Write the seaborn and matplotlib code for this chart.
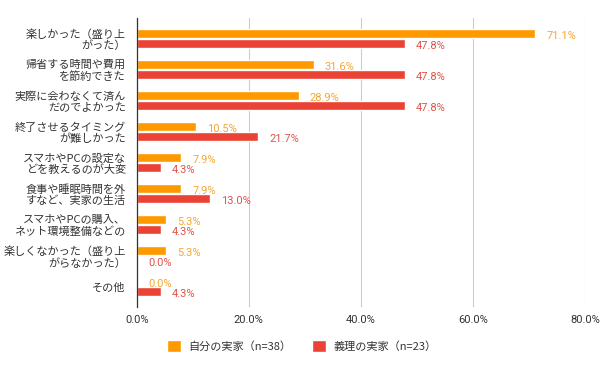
import matplotlib.pyplot as plt
import seaborn as sns
import pandas as pd

categories = [
    "楽しかった（盛り上\nがった）",
    "帰省する時間や費用\nを節約できた",
    "実際に会わなくて済ん\nだのでよかった",
    "終了させるタイミング\nが難しかった",
    "スマホやPCの設定な\nどを教えるのが大変",
    "食事や睡眠時間を外\nすなど、実家の生活",
    "スマホやPCの購入、\nネット環境整備などの",
    "楽しくなかった（盛り上\nがらなかった）",
    "その他",
]
series_names = ["自分の実家（n=38）", "義理の実家（n=23）"]
own_home = [71.1, 31.6, 28.9, 10.5, 7.9, 7.9, 5.3, 5.3, 0.0]
in_law_home = [47.8, 47.8, 47.8, 21.7, 4.3, 13.0, 4.3, 0.0, 4.3]
x_ticks = [0, 20, 40, 60, 80]

colors = ["#FF9900", "#EA4335"]
label_colors = ["#F5A733", "#E0524A"]

df = pd.DataFrame({
    "category": categories * 2,
    "series": [series_names[0]] * len(categories) + [series_names[1]] * len(categories),
    "value": own_home + in_law_home,
})

sns.set_theme(style="white")
plt.rcParams["font.family"] = ["Noto Sans CJK JP", "DejaVu Sans"]

fig = plt.figure(figsize=(6, 3.71), dpi=100)
ax = fig.add_axes([0.228, 0.1725, 0.747, 0.778])

sns.barplot(data=df, y="category", x="value", hue="series", orient="h",
            palette=colors, width=0.64, gap=0.06, saturation=1, ax=ax)

# value labels next to each bar
for cont, lc in zip(ax.containers, label_colors):
    for bar in cont:
        w = bar.get_width()
        ax.annotate(f"{w:.1f}%", (w, bar.get_y() + bar.get_height() / 2),
                    xytext=(8, -1.5), textcoords="offset points",
                    ha="left", va="center", fontsize=8, color=lc,
                    family=["Roboto", "DejaVu Sans"])

ax.set_xlim(0, 80)
ax.set_ylim(8.65, -0.65)
ax.set_xticks(x_ticks)
ax.set_xticklabels([f"{t:.1f}%" for t in x_ticks], fontsize=8, color="#333333",
                   family=["Roboto", "DejaVu Sans"])
ax.tick_params(axis="y", labelsize=8, labelcolor="#333333", length=0, pad=8)
ax.tick_params(axis="x", length=0, pad=6)
ax.set_xlabel("")
ax.set_ylabel("")
ax.grid(axis="x", color="#CCCCCC", linewidth=0.8)
ax.set_axisbelow(True)
for s in ["top", "right", "bottom"]:
    ax.spines[s].set_visible(False)
ax.spines["left"].set_color("#333333")
ax.spines["left"].set_linewidth(0.9)
ax.spines["left"].set_zorder(5)

for lbl in ax.get_yticklabels():
    lbl.set_horizontalalignment("right")
    lbl.set_multialignment("right")
    lbl.set_linespacing(1.1)

leg = ax.legend(loc="center left", bbox_to_anchor=(0.045, -0.135), ncol=2,
                frameon=False, fontsize=8, handlelength=1.25, handleheight=1.25,
                columnspacing=1.8, handletextpad=0.7)
for t in leg.get_texts():
    t.set_color("#333333")

fig.savefig("out.png", dpi=100)
